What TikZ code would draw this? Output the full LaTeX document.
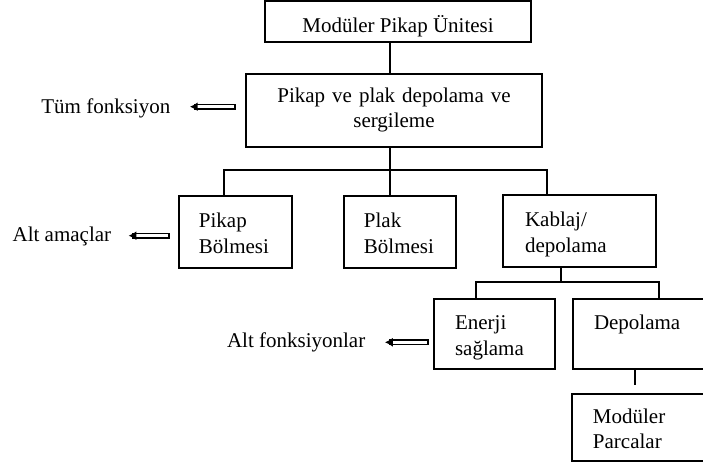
\documentclass[tikz,border=0pt]{standalone}
\usepackage{fontspec}
\setmainfont{Liberation Serif}
\usetikzlibrary{positioning, arrows.meta}

\begin{document}
\begin{tikzpicture}[
  x=0.5714pt, y=-0.5714pt,
  font=\fontsize{12}{14.3}\selectfont,
  box/.style={draw, line width=0.9pt, inner ysep=0pt, minimum height=41pt, align=left,
    text height=12.4pt, text depth=17pt},
  link/.style={line width=0.6pt},
  tag/.style={inner sep=0pt, anchor=base west},
  dblarrow/.style={double=white, double distance=1.6pt, line width=1pt,
    line cap=rect, -{Latex[length=4.5pt, width=5.2pt]}, shorten >=11pt},
]
  \useasboundingbox (0,0) rectangle (703,466);
  \clip (0,0) rectangle (703,466);

  \node[draw, line width=0.9pt, inner sep=0pt, minimum width=152pt, minimum height=23.4pt,
    text height=12.6pt, text depth=0pt] (unit) at (398,21.5) {Modüler Pikap Ünitesi};
  \node[box, align=center, inner xsep=12pt, text width=145pt, minimum height=41.7pt,
    text height=8.3pt] (main) at (394,110.5) {Pikap ve plak depolama ve\\sergileme};

  \node[box, inner xsep=11.4pt, text width=41.8pt] (pikap) at (235.5,232) {Pikap\\Bölmesi};
  \node[box, inner xsep=11.4pt, text width=41.2pt] (plak) at (400,232) {Plak\\Bölmesi};
  \node[box, inner xsep=12.6pt, text width=62.2pt] (kablaj) at (579.5,231) {Kablaj/\\depolama};

  \node[box, inner xsep=12pt, minimum height=40pt, text width=45.1pt] (energy) at (494.5,334)
    {Enerji\\sağlama};
  \node[box, inner xsep=12pt, minimum height=40pt, text width=60pt] (store) at (646.5,334)
    {Depolama};
  \node[box, inner xsep=12pt, minimum height=38.3pt, text width=60.6pt] (parts) at (646,427.5)
    {Modüler\\Parcalar};

  \node[tag] (fnAll) at (41,113.3) {Tüm fonksiyon};
  \node[tag] (goals) at (12.3,241.7) {Alt amaçlar};
  \node[tag] (fnSub) at (226.7,347.7) {Alt fonksiyonlar};

  \coordinate (busMid) at (390,170);
  \coordinate (busL) at (224,170);
  \coordinate (busR) at (547,170);
  \coordinate (subMid) at (561,282);
  \coordinate (subL) at (476,282);
  \coordinate (subR) at (659,282);
  \coordinate (stub) at (635,385);

  \draw[link] (unit.south -| busMid) -- (main.north -| busMid);
  \draw[link] (main.south -| busMid) -- (plak.north -| busMid);
  \draw[link] (pikap.north -| busL) -- (busL) -- (busR) -- (kablaj.north -| busR);
  \draw[link] (kablaj.south -| subMid) -- (subMid);
  \draw[link] (energy.north -| subL) -- (subL) -- (subR) -- (store.north -| subR);
  \draw[link] (store.south -| stub) -- (stub);

  \coordinate (tailA) at (232.7,106.7);
  \coordinate (tailB) at (167,235.7);
  \coordinate (tailC) at (426,342.3);
  \draw[dblarrow] (tailA) -- (tailA -| fnAll.east);
  \draw[dblarrow, shorten >=9.7pt] (tailB) -- (tailB -| goals.east);
  \draw[dblarrow] (tailC) -- (tailC -| fnSub.east);
\end{tikzpicture}
\end{document}
